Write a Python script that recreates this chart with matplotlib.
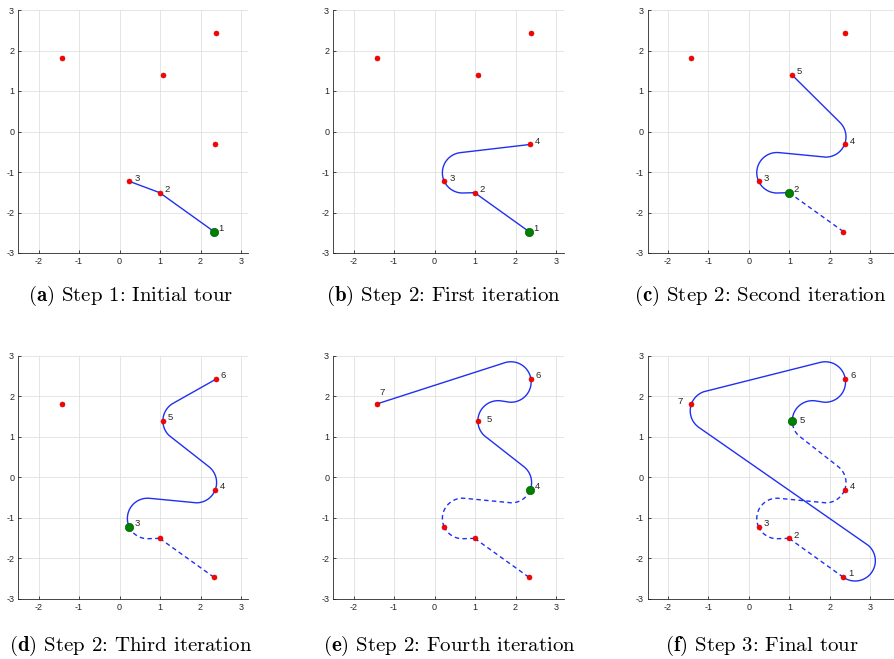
import numpy as np
import matplotlib
matplotlib.use("Agg")
import matplotlib.pyplot as plt

# ---------------- data ----------------
node_x = [2.33, 0.99, 0.24, 2.36, 1.07, 2.38, -1.42]
node_y = [-2.47, -1.51, -1.23, -0.32, 1.39, 2.42, 1.81]
tour = [1, 2, 3, 4, 5, 6, 7, 1]
turn_radius = 0.5

# headings (deg) of the nodes at each iteration
heading_b = [144.4, 180, 115, 6.5]
heading_c = [144.4, 180, 115, 68, 139]
heading_d = [144.4, 180, 115, 68, 90, 30]
heading_e = [144.4, 180, 115, 68, 90, 98, 197]
heading_f = [144.4, 180, 115, 68, 90, 98, 250]
panel_headings = [None, heading_b, heading_c, heading_d, heading_e, heading_f]

panel_letters = ["a", "b", "c", "d", "e", "f"]
panel_titles = ["Step 1: Initial tour", "Step 2: First iteration",
                "Step 2: Second iteration", "Step 2: Third iteration",
                "Step 2: Fourth iteration", "Step 3: Final tour"]
start_node = [1, 1, 2, 3, 4, 5]
n_dashed = [0, 0, 1, 2, 3, 4]
n_solid = [2, 3, 3, 3, 3, 3]
labeled_nodes = [[1, 2, 3], [1, 2, 3, 4], [2, 3, 4, 5], [3, 4, 5, 6],
                 [4, 5, 6, 7], [1, 2, 3, 4, 5, 6, 7]]
x_ticks = [-2, -1, 0, 1, 2, 3]
y_ticks = [-3, -2, -1, 0, 1, 2, 3]
x_tick_labels = ["-2", "-1", "0", "1", "2", "3"]
y_tick_labels = ["-3", "-2", "-1", "0", "1", "2", "3"]


# ---------------- Dubins path ----------------
def mod2pi(a):
    return a % (2 * np.pi)


def dubins_xy(x0, y0, th0, x1, y1, th1, r):
    dx, dy = x1 - x0, y1 - y0
    d = np.hypot(dx, dy) / r
    theta = mod2pi(np.arctan2(dy, dx))
    a = mod2pi(th0 - theta)
    b = mod2pi(th1 - theta)
    sa, sb, ca, cb = np.sin(a), np.sin(b), np.cos(a), np.cos(b)
    cab = np.cos(a - b)
    cands = []
    p2 = 2 + d * d - 2 * cab + 2 * d * (sa - sb)
    if p2 >= 0:
        t1 = np.arctan2(cb - ca, d + sa - sb)
        cands.append(("LSL", mod2pi(t1 - a), np.sqrt(p2), mod2pi(b - t1)))
    p2 = 2 + d * d - 2 * cab + 2 * d * (sb - sa)
    if p2 >= 0:
        t1 = np.arctan2(ca - cb, d - sa + sb)
        cands.append(("RSR", mod2pi(a - t1), np.sqrt(p2), mod2pi(t1 - b)))
    p2 = -2 + d * d + 2 * cab + 2 * d * (sa + sb)
    if p2 >= 0:
        p = np.sqrt(p2)
        t0 = np.arctan2(-ca - cb, d + sa + sb) - np.arctan2(-2.0, p)
        cands.append(("LSR", mod2pi(t0 - a), p, mod2pi(t0 - b)))
    p2 = -2 + d * d + 2 * cab - 2 * d * (sa + sb)
    if p2 >= 0:
        p = np.sqrt(p2)
        t0 = np.arctan2(ca + cb, d - sa - sb) - np.arctan2(2.0, p)
        cands.append(("RSL", mod2pi(a - t0), p, mod2pi(b - t0)))
    tmp = (6 - d * d + 2 * cab + 2 * d * (sa - sb)) / 8
    if abs(tmp) <= 1:
        phi = np.arctan2(ca - cb, d - sa + sb)
        p = mod2pi(2 * np.pi - np.arccos(tmp))
        t = mod2pi(a - phi + p / 2)
        cands.append(("RLR", t, p, mod2pi(a - b - t + p)))
    tmp = (6 - d * d + 2 * cab + 2 * d * (sb - sa)) / 8
    if abs(tmp) <= 1:
        phi = np.arctan2(ca - cb, d + sa - sb)
        p = mod2pi(2 * np.pi - np.arccos(tmp))
        t = mod2pi(-a - phi + p / 2)
        cands.append(("LRL", t, p, mod2pi(b - a - t + p)))
    word, t, p, q = min(cands, key=lambda c: c[1] + c[2] + c[3])
    xs, ys = [x0], [y0]
    x, y, th = x0, y0, th0
    for kind, L in zip(word, (t, p, q)):
        s = np.linspace(0, L, max(2, int(L * 60)))
        if kind == "L":
            px = x + r * (np.sin(th + s) - np.sin(th))
            py = y - r * (np.cos(th + s) - np.cos(th))
            th = th + L
        elif kind == "R":
            px = x - r * (np.sin(th - s) - np.sin(th))
            py = y + r * (np.cos(th - s) - np.cos(th))
            th = th - L
        else:
            px = x + r * s * np.cos(th)
            py = y + r * s * np.sin(th)
        xs.extend(px[1:]); ys.extend(py[1:])
        x, y = px[-1], py[-1]
    return np.array(xs), np.array(ys)


def leg_xy(k, headings):
    i, j = tour[k] - 1, tour[k + 1] - 1
    if headings is None or k == 0:
        return np.array([node_x[i], node_x[j]]), np.array([node_y[i], node_y[j]])
    return dubins_xy(node_x[i], node_y[i], np.radians(headings[i]),
                     node_x[j], node_y[j], np.radians(headings[j]), turn_radius)


# ---------------- layout / style ----------------
W, H = 894, 659
fig = plt.figure(figsize=(W / 100, H / 100), dpi=100)
plt.rcParams["mathtext.fontset"] = "cm"

px_per_unit = 40.5
lefts = [18.3, 333.3, 647.7, 18.3, 333.3, 647.7]
tops = [10, 10, 10, 355.7, 355.7, 355.7]
xlims = [(-2.5, 3.17), (-2.5, 3.2), (-2.5, 3.62), (-2.5, 3.17), (-2.5, 3.2), (-2.5, 3.62)]
ylim = (-3, 3)
cap_x = [131, 444, 760, 131, 449, 762]
cap_y = [295.5, 295.5, 295.5, 646, 646, 646]
label_off = {(4, 5): (0.22, 0.03), (4, 7): (0.07, 0.28),
             (5, 5): (0.18, 0.02), (5, 7): (-0.35, 0.07)}
line_col = "#2030f0"
axis_col = (0.15, 0.15, 0.15)
grid_col = (0.88, 0.88, 0.88)
tick_font = ["Liberation Sans", "DejaVu Sans"]

for pi in range(6):
    xl = xlims[pi]
    w = (xl[1] - xl[0]) * px_per_unit
    h = (ylim[1] - ylim[0]) * px_per_unit
    ax = fig.add_axes([lefts[pi] / W, (H - tops[pi] - h) / H, w / W, h / H])
    ax.set_xlim(*xl)
    ax.set_ylim(*ylim)
    ax.set_xticks(x_ticks)
    ax.set_yticks(y_ticks)
    ax.set_xticklabels(x_tick_labels, fontsize=6.5, family=tick_font, color=axis_col)
    ax.set_yticklabels(y_tick_labels, fontsize=6.5, family=tick_font, color=axis_col)
    ax.tick_params(direction="in", length=2.5, width=0.6, color=axis_col, pad=3)
    ax.grid(True, color=grid_col, lw=0.6)
    ax.set_axisbelow(True)
    for sp in ["top", "right"]:
        ax.spines[sp].set_visible(False)
    for sp in ["left", "bottom"]:
        ax.spines[sp].set_color(axis_col)
        ax.spines[sp].set_linewidth(0.6)

    headings = panel_headings[pi]
    # dashed legs (already fixed part of tour)
    for k in range(n_dashed[pi]):
        lx, ly = leg_xy(k, headings)
        ax.plot(lx, ly, color=line_col, lw=1.0, dashes=(3.2, 2.4), zorder=3)
    # solid legs
    for k in range(n_dashed[pi], n_dashed[pi] + n_solid[pi]):
        lx, ly = leg_xy(k, headings)
        ax.plot(lx, ly, color=line_col, lw=1.0, zorder=3)

    # nodes
    for n in range(7):
        if n + 1 == start_node[pi]:
            ax.plot(node_x[n], node_y[n], "o", ms=6.0, mfc=(0.0, 0.5, 0.0),
                    mec=(0.0, 0.4, 0.0), mew=0.5, zorder=5)
        else:
            ax.plot(node_x[n], node_y[n], "o", ms=3.6, mfc=(1.0, 0.0, 0.0),
                    mec=(0.8, 0.0, 0.0), mew=0.4, zorder=5)
    for n in labeled_nodes[pi]:
        dx, dy = label_off.get((pi, n), (0.12, 0.08))
        ax.text(node_x[n - 1] + dx, node_y[n - 1] + dy, str(n), fontsize=6.8,
                family=tick_font, color=axis_col, ha="left", va="center", zorder=6)

    fig.text(cap_x[pi] / W, 1 - cap_y[pi] / H,
             r"$\mathbf{(" + panel_letters[pi] + r")}$ " + panel_titles[pi],
             family=["cmr10", "DejaVu Serif"], fontsize=15.0, ha="center", va="center")

fig.savefig("out.png", dpi=100)
